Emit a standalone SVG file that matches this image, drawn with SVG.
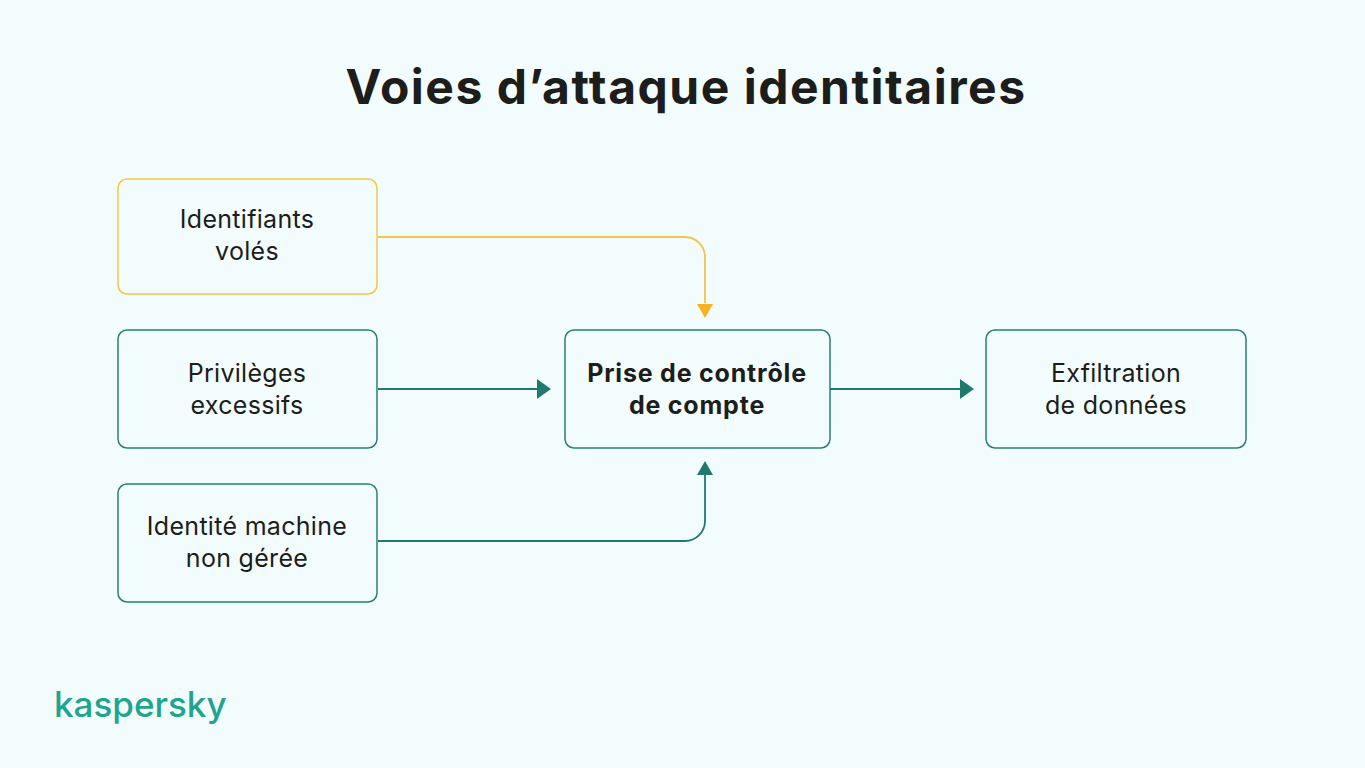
<svg xmlns="http://www.w3.org/2000/svg" width="1365" height="768" viewBox="0 0 1365 768">
<defs>
<style>
.box{fill:#f3fcfc;stroke:#2a7f72;stroke-width:1.5}
.y{stroke:#f2c54a}
.t{font-family:Inter,"Liberation Sans",sans-serif;font-size:25px;letter-spacing:0.3px;fill:#1d1d1b;text-anchor:middle}
.b{font-weight:700;letter-spacing:0.8px}
.c{fill:none;stroke:#1f7a6e;stroke-width:1.8}
.cy{fill:none;stroke:#f2c54a;stroke-width:1.8}
</style>
</defs>
<rect width="1365" height="768" fill="#f3fcfc"/>
<text x="686" y="104" text-anchor="middle" font-family="Inter,'Liberation Sans',sans-serif" font-size="48" font-weight="700" letter-spacing="1.5" fill="#1d1d1b">Voies d’attaque identitaires</text>
<g id="connectors">
<path class="cy" d="M378,237H685a20,20 0 0 1 20,20V303"/>
<path d="M697,304L713,304L705,318z" fill="#f5b31f"/>
<path class="c" d="M378,389H538"/>
<path d="M537,379L551,389L537,399z" fill="#1f7a6e"/>
<path class="c" d="M830,389H960"/>
<path d="M960,379L974,389L960,399z" fill="#1f7a6e"/>
<path class="c" d="M378,541H685a20,20 0 0 0 20,-20V474"/>
<path d="M697,475L713,475L705,461z" fill="#1f7a6e"/>
</g>
<g id="n1"><rect class="box y" x="118" y="179" width="259" height="115" rx="9"/><text class="t" x="247" y="228">Identifiants</text><text class="t" x="247" y="260">volés</text></g>
<g id="n2"><rect class="box" x="118" y="330" width="259" height="118" rx="9"/><text class="t" x="247" y="382">Privilèges</text><text class="t" x="247" y="414">excessifs</text></g>
<g id="n3"><rect class="box" x="118" y="484" width="259" height="118" rx="9"/><text class="t" x="247" y="535">Identité machine</text><text class="t" x="247" y="567">non gérée</text></g>
<g id="n4"><rect class="box" x="565" y="330" width="265" height="118" rx="9"/><text class="t b" x="697" y="382">Prise de contrôle</text><text class="t b" x="697" y="414">de compte</text></g>
<g id="n5"><rect class="box" x="986" y="330" width="260" height="118" rx="9"/><text class="t" x="1116" y="382">Exfiltration</text><text class="t" x="1116" y="414">de données</text></g>
<text x="54" y="717" font-family="Inter,'Liberation Sans',sans-serif" font-size="35" font-weight="500" fill="#1fa58f">kaspersky</text>
</svg>
